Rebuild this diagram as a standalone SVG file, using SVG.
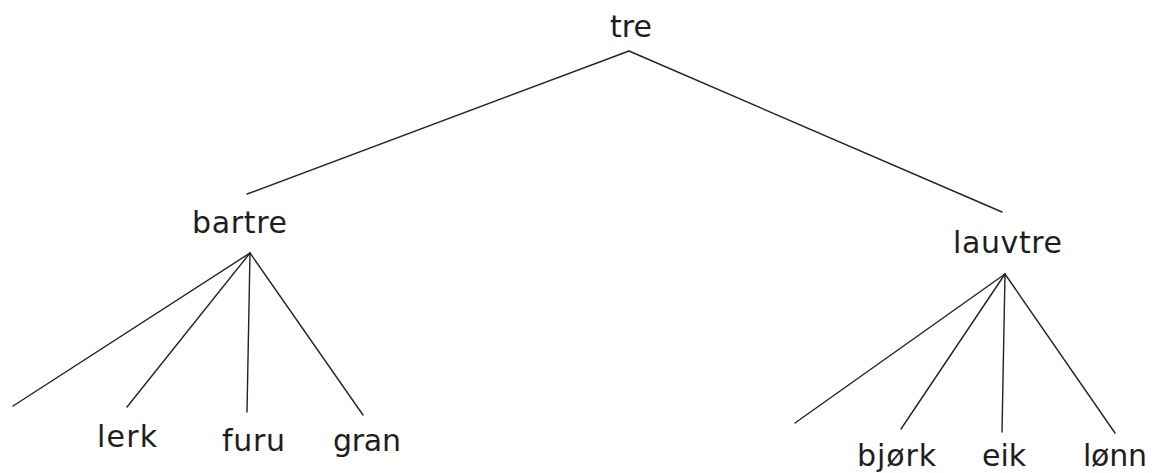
<svg xmlns="http://www.w3.org/2000/svg" width="1155" height="473" viewBox="0 0 1155 473">
<style>
.lbl{font-family:"DejaVu Sans","Liberation Sans",sans-serif;font-size:30px;fill:#1e1e1e}
.edge{stroke:#222;stroke-width:1.4;fill:none;stroke-linecap:round}
</style>
<rect width="1155" height="473" fill="#ffffff"/>
<g id="connectors">
<line class="edge" x1="629" y1="51" x2="247" y2="194"/>
<line class="edge" x1="629" y1="51" x2="1002" y2="212"/>
<line class="edge" x1="250" y1="253" x2="13" y2="406"/>
<line class="edge" x1="250" y1="253" x2="127" y2="407"/>
<line class="edge" x1="250" y1="253" x2="247" y2="412"/>
<line class="edge" x1="250" y1="253" x2="363" y2="415"/>
<line class="edge" x1="1005" y1="274" x2="795" y2="423"/>
<line class="edge" x1="1005" y1="274" x2="901" y2="429"/>
<line class="edge" x1="1005" y1="274" x2="1002" y2="432"/>
<line class="edge" x1="1005" y1="274" x2="1115" y2="433"/>
</g>
<g id="tre"><text class="lbl" x="610" y="37" textLength="42" lengthAdjust="spacing">tre</text></g>
<g id="bartre"><text class="lbl" x="192" y="233" textLength="95" lengthAdjust="spacing">bartre</text></g>
<g id="lauvtre"><text class="lbl" x="953" y="253" textLength="109" lengthAdjust="spacing">lauvtre</text></g>
<g id="lerk"><text class="lbl" x="97" y="447" textLength="60" lengthAdjust="spacing">lerk</text></g>
<g id="furu"><text class="lbl" x="222" y="451" textLength="63" lengthAdjust="spacing">furu</text></g>
<g id="gran"><text class="lbl" x="333" y="451" textLength="68" lengthAdjust="spacing">gran</text></g>
<g id="bjork"><text class="lbl" x="857" y="466" textLength="79" lengthAdjust="spacing">bjørk</text></g>
<g id="eik"><text class="lbl" x="982" y="466" textLength="44" lengthAdjust="spacing">eik</text></g>
<g id="lonn"><text class="lbl" x="1083" y="466" textLength="64" lengthAdjust="spacing">lønn</text></g>
</svg>
